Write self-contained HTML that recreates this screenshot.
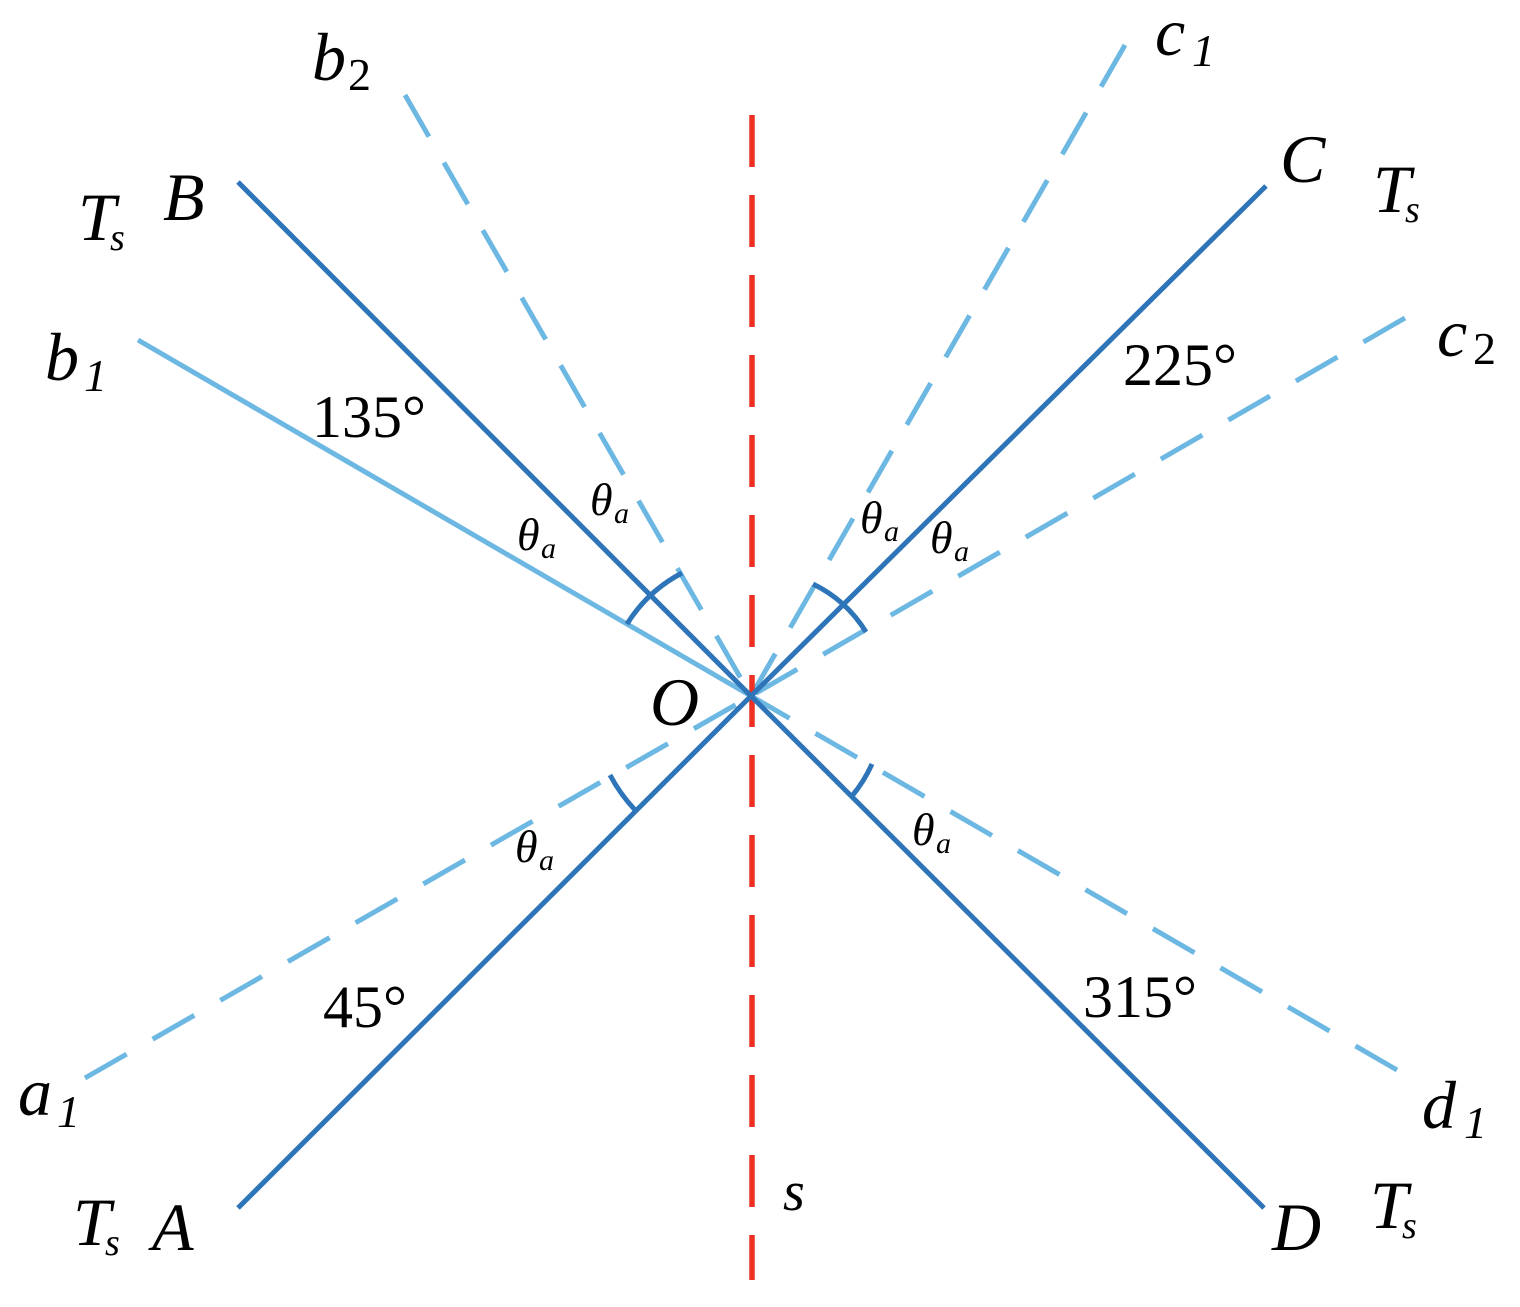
<!DOCTYPE html>
<html><head><meta charset="utf-8"><style>
html,body{margin:0;padding:0;background:#fff;}
svg{display:block;}
text{font-family:"Liberation Serif",serif;fill:#000;}
.i{font-style:italic;}
</style></head><body>
<svg width="1520" height="1307" viewBox="0 0 1520 1307" xmlns="http://www.w3.org/2000/svg">
<g stroke-linecap="butt" fill="none">
<g stroke="#6cb8e2" stroke-width="5" stroke-dasharray="48 30">
<line x1="405" y1="95" x2="751" y2="696"/>
<line x1="1125" y1="45" x2="751" y2="696"/>
<line x1="1405" y1="318" x2="751" y2="696"/>
<line x1="85" y1="1078" x2="751" y2="696"/>
<line x1="1397" y1="1070" x2="751" y2="696"/>
</g>
<line x1="138" y1="340" x2="751" y2="696" stroke="#6cb8e2" stroke-width="5"/>
<line x1="752" y1="115" x2="752" y2="1280" stroke="#ee3124" stroke-width="5.5" stroke-dasharray="52 28"/>
<g stroke="#2e74b8" stroke-width="5">
<line x1="238" y1="182" x2="751" y2="696"/>
<line x1="238" y1="1208" x2="751" y2="696"/>
<line x1="1266" y1="186" x2="751" y2="696"/>
<line x1="1264" y1="1208" x2="751" y2="696"/>
<path d="M627 624 A143 143 0 0 1 682 573"/>
<path d="M813 584 A128 128 0 0 1 866 632"/>
<path d="M610 775 A162 162 0 0 0 636 811"/>
<path d="M872 764 A140 140 0 0 1 852 796"/>
</g>
</g>
<g font-size="68">
<text class="i" x="312" y="80">b</text><text x="348" y="90" font-size="46">2</text>
<text class="i" x="1155" y="55">c</text><text class="i" x="1192" y="66" font-size="46">1</text>
<text class="i" x="163" y="220">B</text>
<text class="i" x="78" y="240">T</text><text class="i" x="110" y="250" font-size="38">s</text>
<text class="i" x="45" y="380">b</text><text class="i" x="84" y="391" font-size="46">1</text>
<text x="312" y="437" font-size="60">135°</text>
<text class="i" x="1280" y="182">C</text>
<text class="i" x="1373" y="212">T</text><text class="i" x="1405" y="222" font-size="38">s</text>
<text class="i" x="1437" y="356">c</text><text x="1473" y="364" font-size="46">2</text>
<text x="1123" y="385" font-size="60">225°</text>
<text class="i" x="650" y="725">O</text>
<text class="i" x="18" y="1115">a</text><text class="i" x="57" y="1127" font-size="46">1</text>
<text x="323" y="1027" font-size="60">45°</text>
<text class="i" x="73" y="1245">T</text><text class="i" x="105" y="1255" font-size="38">s</text>
<text class="i" x="152" y="1250">A</text>
<text class="i" x="783" y="1210" font-size="56">s</text>
<text x="1083" y="1017" font-size="60">315°</text>
<text class="i" x="1422" y="1128">d</text><text class="i" x="1464" y="1138" font-size="46">1</text>
<text class="i" x="1272" y="1250">D</text>
<text class="i" x="1370" y="1228">T</text><text class="i" x="1402" y="1238" font-size="38">s</text>
</g>
<g>
<text class="i" x="590" y="515" font-size="46">θ</text><text class="i" x="614" y="523" font-size="30">a</text>
<text class="i" x="517" y="550" font-size="46">θ</text><text class="i" x="541" y="558" font-size="30">a</text>
<text class="i" x="860" y="533" font-size="46">θ</text><text class="i" x="884" y="541" font-size="30">a</text>
<text class="i" x="930" y="553" font-size="46">θ</text><text class="i" x="954" y="561" font-size="30">a</text>
<text class="i" x="515" y="862" font-size="46">θ</text><text class="i" x="539" y="870" font-size="30">a</text>
<text class="i" x="912" y="845" font-size="46">θ</text><text class="i" x="936" y="853" font-size="30">a</text>
</g>
</svg>
</body></html>
